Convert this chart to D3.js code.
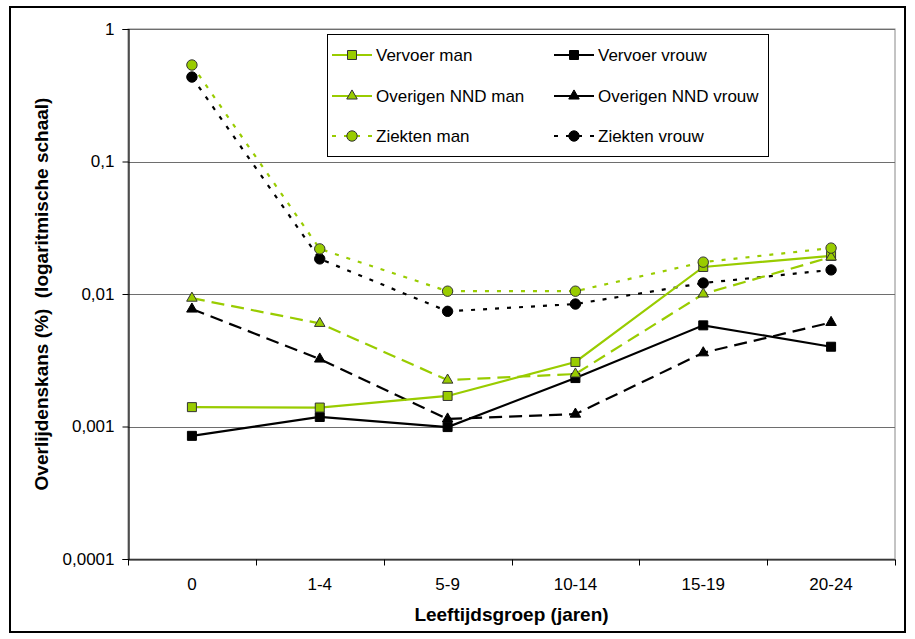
<!DOCTYPE html>
<html>
<head>
<meta charset="utf-8">
<script src="https://cdn.jsdelivr.net/npm/d3@7"></script>
<style>
  html, body { margin: 0; padding: 0; background: #fff; }
  svg { display: block; font-family: "Liberation Sans", Arial, sans-serif; }
</style>
</head>
<body>
<svg id="chart" width="915" height="639"></svg>
<script>
// Age groups and death probabilities (%), log scale
const categories = ["0", "1-4", "5-9", "10-14", "15-19", "20-24"];
const vervoerMan    = [0.0014, 0.00139, 0.0017, 0.00307, 0.016, 0.0194];
const vervoerVrouw  = [0.00085, 0.00118, 0.00099, 0.00232, 0.0058, 0.0040];
const overigenMan   = [0.0093, 0.0060, 0.00224, 0.00249, 0.0100, 0.0190];
const overigenVrouw = [0.0077, 0.00323, 0.00114, 0.00124, 0.0036, 0.0061];
const ziektenMan    = [0.535, 0.0219, 0.0105, 0.0105, 0.0174, 0.0222];
const ziektenVrouw  = [0.434, 0.0184, 0.0074, 0.0084, 0.0121, 0.0152];
const yTicks = [0.0001, 0.001, 0.01, 0.1, 1];
const yTickLabels = ["0,0001", "0,001", "0,01", "0,1", "1"];

const GREEN = "#99cc00";
const series = [
  { name: "Vervoer man",         values: vervoerMan,    color: GREEN,  dash: null,   legendDash: null,   symbol: d3.symbolSquare,   size: 81 },
  { name: "Vervoer vrouw",       values: vervoerVrouw,  color: "#000", dash: null,   legendDash: null,   symbol: d3.symbolSquare,   size: 81 },
  { name: "Overigen NND man",    values: overigenMan,   color: GREEN,  dash: "13,7", legendDash: "17,6", symbol: d3.symbolTriangle, size: 48 },
  { name: "Overigen NND vrouw",  values: overigenVrouw, color: "#000", dash: "13,7", legendDash: "17,6", symbol: d3.symbolTriangle, size: 48 },
  { name: "Ziekten man",         values: ziektenMan,    color: GREEN,  dash: "4,8",  legendDash: "4,8",  symbol: d3.symbolCircle,   size: 85 },
  { name: "Ziekten vrouw",       values: ziektenVrouw,  color: "#000", dash: "4,8",  legendDash: "4,8",  symbol: d3.symbolCircle,   size: 85 }
];
// women's series are drawn first, men's on top
const drawOrder = [1, 3, 5, 0, 2, 4];

const svg = d3.select("#chart");
const plot = { left: 128, right: 895, top: 29, bottom: 559 };

// outer frame
svg.append("rect")
  .attr("x", 10).attr("y", 7).attr("width", 895).attr("height", 625)
  .attr("fill", "#fff").attr("stroke", "#000").attr("stroke-width", 2);

const x = d3.scaleBand(categories, [plot.left, plot.right]);
const y = d3.scaleLog([0.0001, 1], [plot.bottom, plot.top]);

// plot area border
svg.append("rect")
  .attr("x", plot.left).attr("y", plot.top)
  .attr("width", plot.right - plot.left).attr("height", plot.bottom - plot.top)
  .attr("fill", "none").attr("stroke", "#888").attr("stroke-width", 1);

// horizontal gridlines
svg.append("g").selectAll("line").data(yTicks).join("line")
  .attr("x1", plot.left).attr("x2", plot.right)
  .attr("y1", d => Math.round(y(d)) + 0.5).attr("y2", d => Math.round(y(d)) + 0.5)
  .attr("stroke", "#6e6e6e").attr("stroke-width", 1);

// y axis
const yAxis = d3.axisLeft(y).tickValues(yTicks)
  .tickFormat((d, i) => yTickLabels[i]).tickSize(6).tickPadding(8);
const gy = svg.append("g").attr("transform", `translate(${plot.left + 0.5},0)`).call(yAxis);
gy.select(".domain").attr("stroke", "#000").attr("stroke-width", 1.2);
gy.selectAll(".tick line").attr("stroke", "#000");
gy.selectAll("text").attr("font-size", 17).attr("fill", "#000")
  .attr("font-family", "Liberation Sans, Arial, sans-serif");

// x axis with ticks between categories
const xAxis = d3.axisBottom(x).tickSize(0).tickPadding(18);
const gx = svg.append("g").attr("transform", `translate(0,${plot.bottom + 0.5})`).call(xAxis);
gx.select(".domain").attr("stroke", "#000").attr("stroke-width", 1.2);
gx.selectAll("text").attr("font-size", 17).attr("fill", "#000")
  .attr("font-family", "Liberation Sans, Arial, sans-serif");
const boundaries = categories.map(c => x(c)).concat([x(categories[categories.length - 1]) + x.bandwidth()]);
gx.selectAll(".sep").data(boundaries).join("line").attr("class", "sep")
  .attr("x1", d => Math.round(d) + 0.5).attr("x2", d => Math.round(d) + 0.5)
  .attr("y1", 0).attr("y2", 6).attr("stroke", "#000");

// axis titles
svg.append("text")
  .attr("x", (plot.left + plot.right) / 2).attr("y", 621)
  .attr("text-anchor", "middle").attr("font-size", 19).attr("font-weight", "bold")
  .text("Leeftijdsgroep (jaren)");
svg.append("text")
  .attr("transform", `translate(48,${(plot.top + plot.bottom) / 2}) rotate(-90)`)
  .attr("text-anchor", "middle").attr("font-size", 19).attr("font-weight", "bold")
  .attr("xml:space", "preserve")
  .text("Overlijdenskans (%)  (logaritmische schaal)");

// series lines and markers
const cx = c => x(c) + x.bandwidth() / 2;
const line = d3.line().x(d => cx(d.cat)).y(d => y(d.v));
drawOrder.forEach(i => {
  const s = series[i];
  const pts = s.values.map((v, k) => ({ cat: categories[k], v }));
  const g = svg.append("g");
  g.append("path").datum(pts).attr("d", line)
    .attr("fill", "none").attr("stroke", s.color).attr("stroke-width", 2.2)
    .attr("stroke-dasharray", s.dash);
  g.selectAll("path.mk").data(pts).join("path").attr("class", "mk")
    .attr("d", d3.symbol(s.symbol, s.size))
    .attr("transform", d => `translate(${cx(d.cat)},${y(d.v)})`)
    .attr("fill", s.color)
    .attr("stroke", s.color === GREEN ? "#333" : "#000").attr("stroke-width", 1);
});

// legend
const lg = svg.append("g");
lg.append("rect").attr("x", 327.5).attr("y", 34.5).attr("width", 441).attr("height", 122)
  .attr("fill", "#fff").attr("stroke", "#000").attr("stroke-width", 1);
const legendLayout = [
  { idx: 0, col: 0, row: 0 }, { idx: 1, col: 1, row: 0 },
  { idx: 2, col: 0, row: 1 }, { idx: 3, col: 1, row: 1 },
  { idx: 4, col: 0, row: 2 }, { idx: 5, col: 1, row: 2 }
];
const colX = [332, 554];
const rowY = [55, 96, 136];
legendLayout.forEach(l => {
  const s = series[l.idx];
  const x0 = colX[l.col], yy = rowY[l.row];
  lg.append("line").attr("x1", x0).attr("x2", x0 + 40).attr("y1", yy).attr("y2", yy)
    .attr("stroke", s.color).attr("stroke-width", 2.2).attr("stroke-dasharray", s.legendDash);
  lg.append("path").attr("d", d3.symbol(s.symbol, s.size))
    .attr("transform", `translate(${x0 + 20},${yy})`)
    .attr("fill", s.color).attr("stroke", s.color === GREEN ? "#333" : "#000").attr("stroke-width", 1);
  lg.append("text").attr("x", x0 + 44).attr("y", yy).attr("dy", "0.35em")
    .attr("font-size", 17).text(s.name);
});
</script>
</body>
</html>
